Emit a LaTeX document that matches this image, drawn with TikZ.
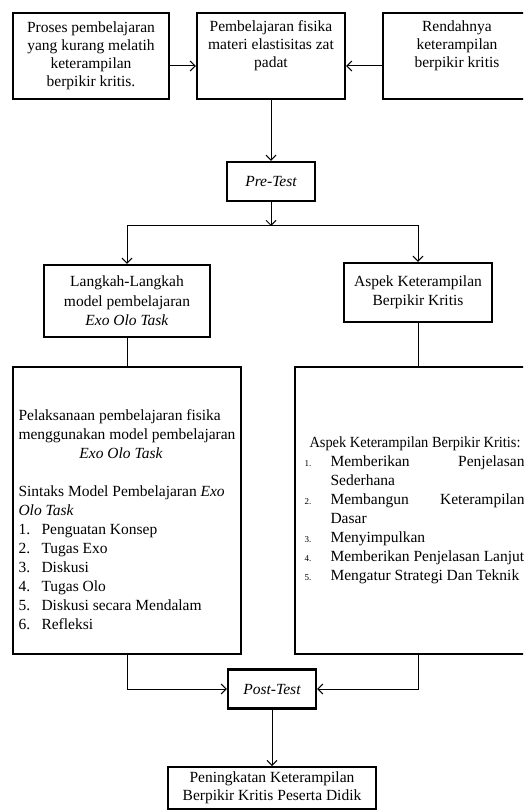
\documentclass[tikz,border=0pt]{standalone}
\usepackage{fontspec}
\setmainfont{Liberation Serif}
\usetikzlibrary{positioning, arrows.meta}

\begin{document}
\begin{tikzpicture}[
    % GLOBAL CFG
    x=1pt, y=-1pt,
    font=\fontsize{15.5}{18}\selectfont,
    >={Straight Barb[length=5pt, width=10pt]},
    % Styles
    box/.style={% For the framed boxes
        rectangle,
        draw,
        line width=2.4pt,
        align=center,
        inner sep=3pt,
        },
    bigbox/.style={% For the two tall boxes
        box,
        align=left,
        minimum height=287,
        font=\fontsize{15.5}{19}\selectfont,
        },
    test/.style={% For Pre-Test and Post-Test
        box,
        minimum width=88,
        minimum height=39,
        font=\fontsize{15.5}{18}\selectfont\itshape,
        },
    link/.style={% Connectors
        line width=1pt,
        },
    ]

    % Page frame, the picture is cut at right and bottom
    \useasboundingbox (0,0) rectangle (523,810);
    \clip (0,0) rectangle (523,810);

    % Draw the top row
    \node [box, minimum width=156, minimum height=86] (proses) at (91,56)
        {Proses pembelajaran\\ yang kurang melatih\\ keterampilan\\ berpikir kritis.};
    \node [box, minimum width=148, minimum height=86] (fisika) at (271,56)
        {Pembelajaran fisika\\ materi elastisitas zat\\ padat\\ \strut};
    \node [box, minimum width=148, minimum height=86] (rendah) at (457,56)
        {Rendahnya\\ keterampilan\\ berpikir kritis\\ \strut};

    % Tests
    \node [test] (pretest) at (271,181.5) {Pre-Test};
    \node [test] (posttest) at (272,689) {Post-Test};
    \coordinate (split) at (271,226);

    % Draw the two branches
    \node [box, minimum width=166, minimum height=72, font=\fontsize{15.5}{19.5}\selectfont] (langkah) at (127,301)
        {Langkah-Langkah\\ model pembelajaran\\ \textit{Exo Olo Task}};
    \node [box, minimum width=148, minimum height=59, font=\fontsize{15.5}{19.5}\selectfont] (aspek) at (418,292.5)
        {Aspek Keterampilan\\ Berpikir Kritis};

    \node [bigbox, minimum width=228] (pelaksanaan) at (127,510.5) {%
        \rule{0pt}{30pt}Pelaksanaan pembelajaran fisika\\
        menggunakan model pembelajaran\\
        \makebox[205pt]{\textit{Exo Olo Task}}\\[19pt]
        Sintaks Model Pembelajaran \textit{Exo}\\
        \textit{Olo Task}\\
        \makebox[23pt][l]{1.}Penguatan Konsep\\
        \makebox[23pt][l]{2.}Tugas Exo\\
        \makebox[23pt][l]{3.}Diskusi\\
        \makebox[23pt][l]{4.}Tugas Olo\\
        \makebox[23pt][l]{5.}Diskusi secara Mendalam\\
        \makebox[23pt][l]{6.}Refleksi};
    \node [bigbox, minimum width=246] (aspekbox) at (418,510.5) {%
        \hspace*{5pt}\scalebox{0.93}[1]{Aspek Keterampilan Berpikir Kritis:}\hspace*{11pt}\\
        \makebox[26pt][l]{\small 1.}\hbox to 194pt{Memberikan\hfill Penjelasan}\\
        \hspace*{26pt}Sederhana\\
        \makebox[26pt][l]{\small 2.}\hbox to 194pt{Membangun\hfill Keterampilan}\\
        \hspace*{26pt}Dasar\\
        \makebox[26pt][l]{\small 3.}Menyimpulkan\\
        \makebox[26pt][l]{\small 4.}Memberikan Penjelasan Lanjut\\
        \makebox[26pt][l]{\small 5.}Mengatur Strategi Dan Teknik};

    % Result
    \node [box, inner ysep=5pt, minimum width=208, anchor=north] (hasil) at (272,766)
        {Peningkatan Keterampilan\\ Berpikir Kritis Peserta Didik};

    % Connecting all
    \draw [link, ->] ([yshift=-10pt]proses.east) -- ([yshift=-10pt]fisika.west);
    \draw [link, ->] ([yshift=-10pt]rendah.west) -- ([yshift=-10pt]fisika.east);
    \draw [link, ->] (fisika) -- (pretest);
    \draw [link, ->] (pretest) -- (split);
    \draw [link, ->] (split) -| (langkah);
    \draw [link, ->] (split) -| (aspek);
    \draw [link] (langkah) -- (pelaksanaan);
    \draw [link] (aspek) -- (aspekbox);
    \draw [link, ->] (pelaksanaan) |- (posttest);
    \draw [link, ->] (aspekbox) |- (posttest);
    \draw [link, ->] (posttest) -- (hasil);

\end{tikzpicture}
\end{document}
